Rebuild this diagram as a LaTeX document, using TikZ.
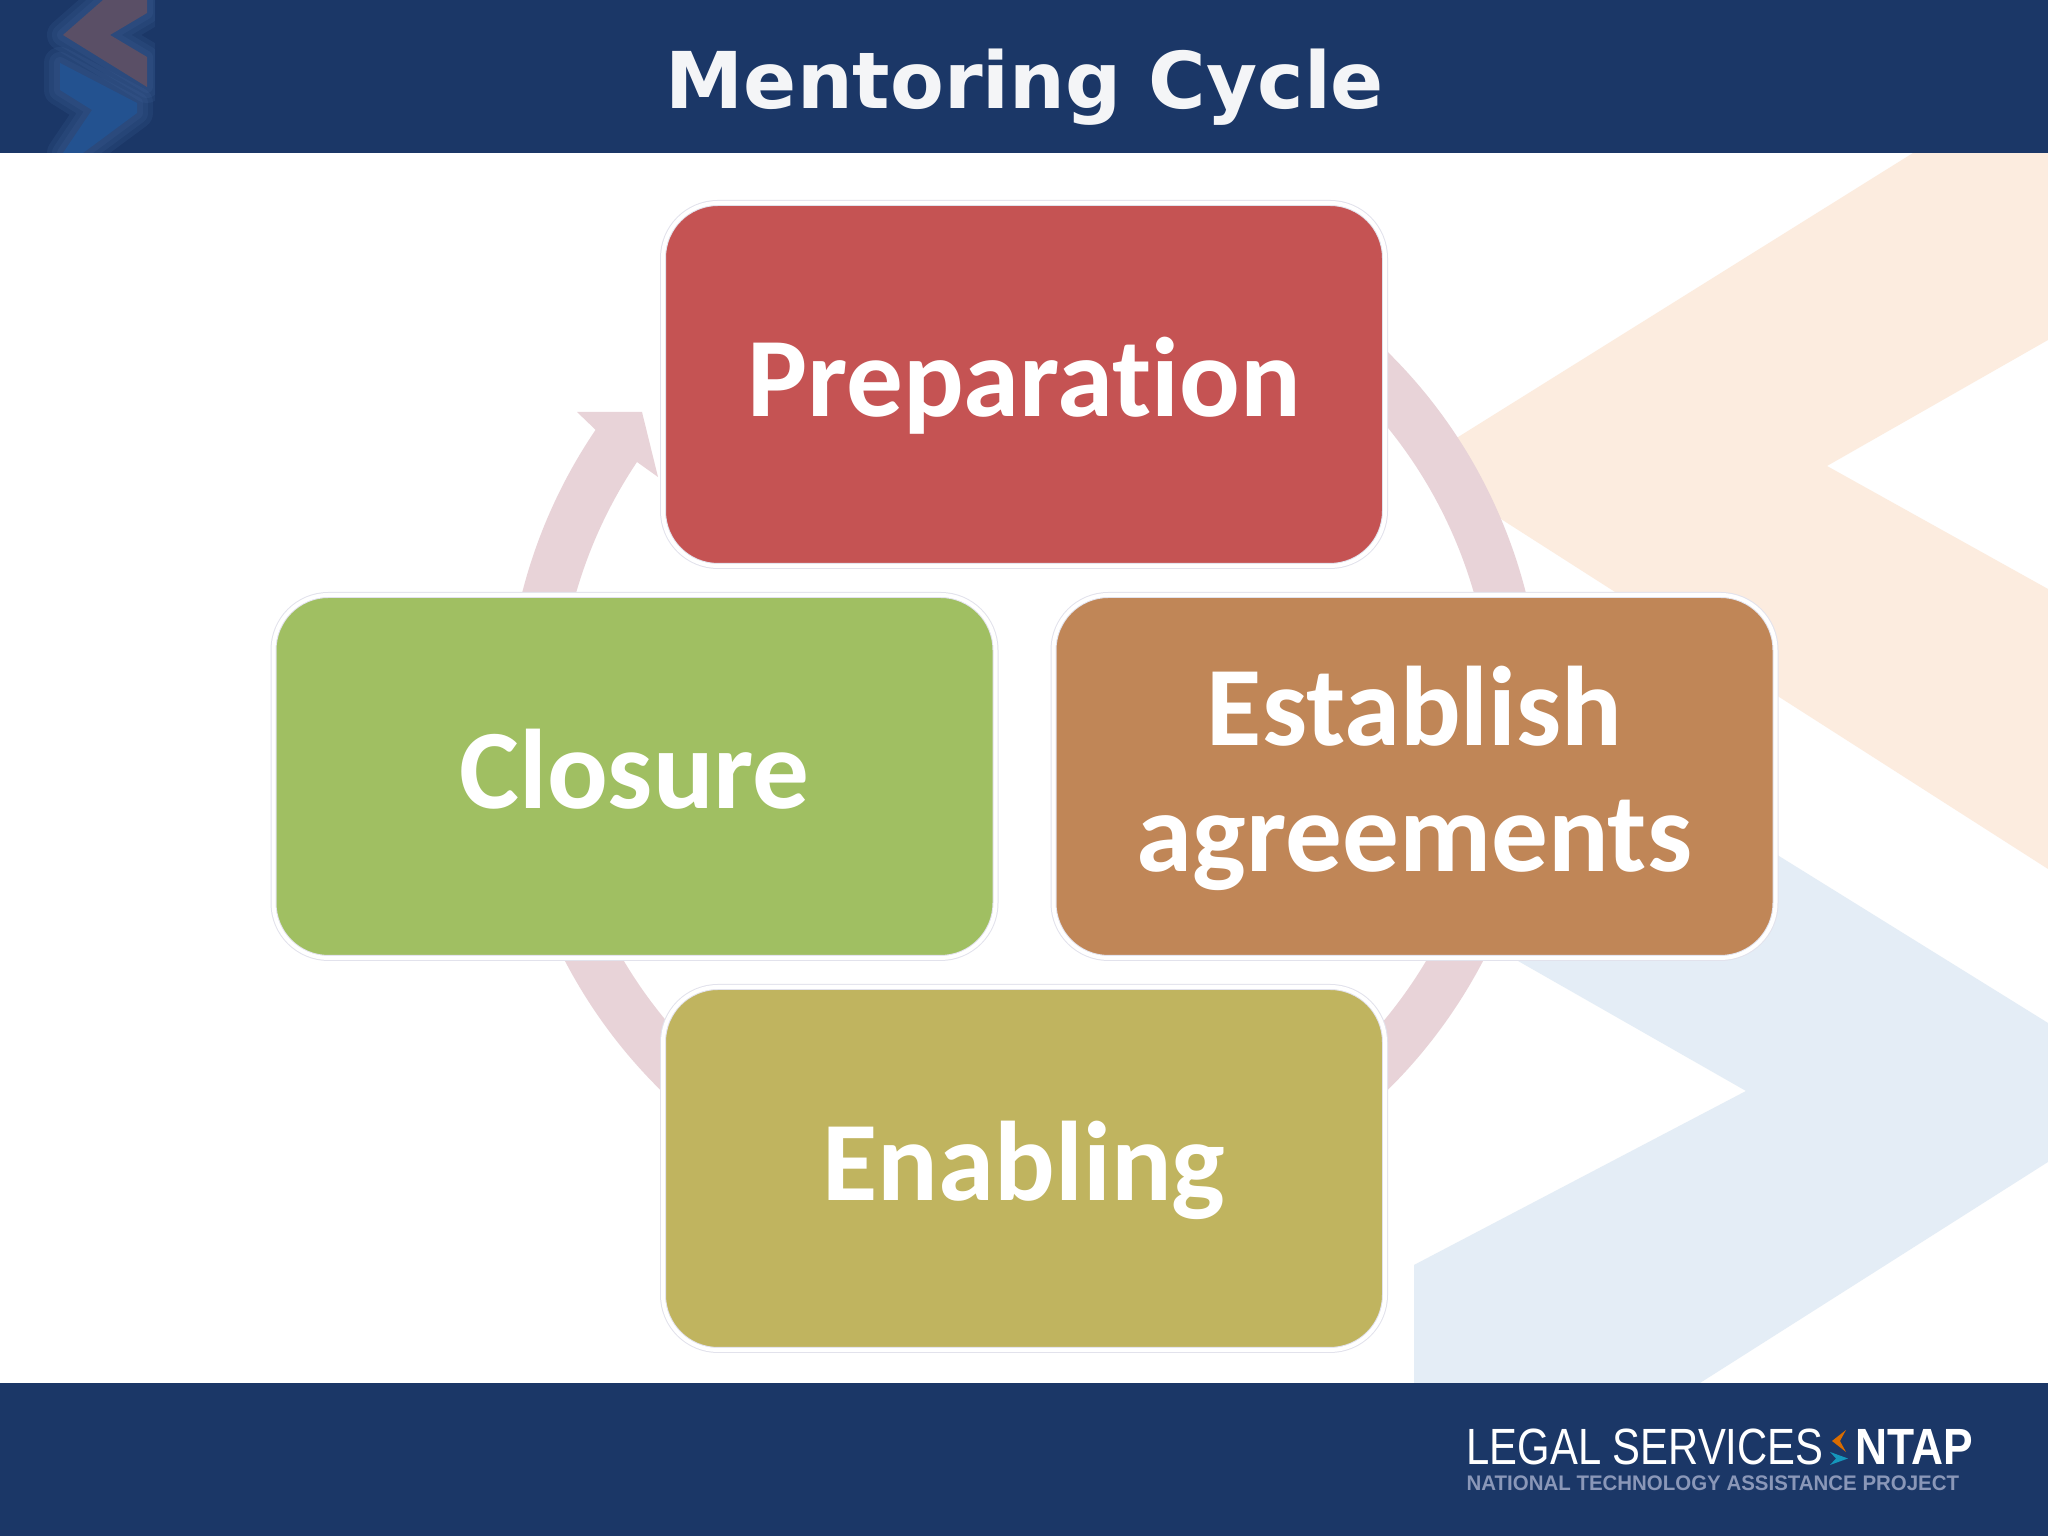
\documentclass[tikz,border=0pt]{standalone}
\usepackage{fontspec}
\usetikzlibrary{positioning}
\newfontfamily\titlefont{DejaVu Sans}
\newfontfamily\boxfont[Ligatures=NoCommon]{Carlito}
\newfontfamily\logofont{Liberation Sans}
\definecolor{ntapnavy}{RGB}{27, 55, 103}
\definecolor{ntapred}{RGB}{197, 83, 83}
\definecolor{ntapgreen}{RGB}{160, 191, 98}
\definecolor{ntaporange}{RGB}{192, 134, 87}
\definecolor{ntapolive}{RGB}{192, 180, 95}
\definecolor{ntapring}{RGB}{232, 211, 216}
\definecolor{ntappeach}{RGB}{252, 236, 223}
\definecolor{ntapsky}{RGB}{228, 237, 246}
\definecolor{ntapedge}{RGB}{226, 226, 236}
\definecolor{ntapgrey}{RGB}{138, 151, 184}
\definecolor{ntapmarkblue}{RGB}{35, 82, 144}
\definecolor{ntapmarkbrown}{RGB}{90, 79, 102}
\definecolor{ntaphaze}{RGB}{70, 105, 160}
\tikzset{
  cyclebox/.style={draw=ntapedge, double=white, double distance=0.04cm, line width=0.01cm,
    rounded corners=0.55cm, minimum width=7.22cm, minimum height=3.63cm, text depth=0.15cm,
    text=white, align=center, font=\boxfont\fontsize{32.2}{36}\selectfont\bfseries},
  logotext/.style={inner sep=0pt, anchor=west}
}
\begin{document}
\begin{tikzpicture}
\useasboundingbox (0,0) rectangle (20.48,15.36);
\fill[white] (0,0) rectangle (20.48,15.36);

% Faint chevrons behind the cycle
\fill[ntappeach] (19.13,13.83) -- (20.48,13.83) -- (20.48,11.96) -- (18.27,10.70) -- (20.48,9.47)
  -- (20.48,6.67) -- (14.15,10.72) -- cycle;
\fill[ntapsky] (20.48,5.13) -- (17.00,7.29) -- (14.90,5.91) -- (17.46,4.45) -- (14.14,2.71)
  -- (14.14,1.53) -- (17.00,1.53) -- (20.48,3.74) -- cycle;

% Header and footer bands
\fill[ntapnavy] (0,13.83) rectangle (20.48,15.36);
\fill[ntapnavy] (0,0) rectangle (20.48,1.53);

% Blurred mark in the header
\begin{scope}
\clip (0,13.83) rectangle (1.55,15.36);
\foreach \w in {0.32,0.22,0.12} {
  \draw[line width=\w cm, ntaphaze, opacity=0.16, line join=round]
    (0.60,14.73) -- (1.37,14.33) -- (1.37,14.23) -- (0.83,13.83) -- (0.63,13.83) -- (0.92,14.26) -- (0.60,14.46) -- cycle;
  \draw[line width=\w cm, ntaphaze, opacity=0.16, line join=round]
    (1.47,15.36) -- (1.03,15.36) -- (0.63,15.01) -- (1.47,14.49) -- (1.47,14.79) -- (1.10,15.01) -- (1.47,15.23) -- cycle;
}
\fill[ntapmarkblue] (0.60,14.73) -- (1.37,14.33) -- (1.37,14.23) -- (0.83,13.83) -- (0.63,13.83) -- (0.92,14.26) -- (0.60,14.46) -- cycle;
\fill[ntapmarkbrown] (1.47,15.36) -- (1.03,15.36) -- (0.63,15.01) -- (1.47,14.49) -- (1.47,14.79) -- (1.10,15.01) -- (1.47,15.23) -- cycle;
\end{scope}

% Ring with its arrow head
\fill[ntapring] (10.24,8.15) ++(60:5.18) arc (60:-214.2:5.18)
  -- (5.77,11.24) -- (6.42,11.24) -- (6.58,10.59) -- (6.37,10.74)
  arc (-213.8:60:4.67) -- cycle;

% Boxes
\node[cyclebox, fill=ntapred] (prepbox) at (10.24,11.515) {Preparation};
\node[cyclebox, fill=ntaporange] (agreebox) at (14.145,7.595) {Establish\\agreements};
\node[cyclebox, fill=ntapolive] (enablebox) at (10.24,3.675) {Enabling};
\node[cyclebox, fill=ntapgreen] (closebox) at (6.345,7.595) {Closure};

% Title
\node[text=white!95!ntapnavy, font=\titlefont\fontsize{22.3}{26}\selectfont\bfseries] (titlelabel) at (10.25,14.49) {Mentoring Cycle};

% Footer logo
\node[logotext, text=white, xscale=0.82, font=\logofont\fontsize{14.5}{16}\selectfont] (legallabel) at (14.66,0.89) {LEGAL SERVICES};
\fill[orange!85!black] (18.46,1.06) -- (18.32,0.95) -- (18.46,0.84) -- (18.40,0.95) -- cycle;
\fill[ntapmarkblue!60!cyan] (18.30,0.84) -- (18.48,0.775) -- (18.30,0.71) -- (18.36,0.775) -- cycle;
\node[logotext, text=white, xscale=0.87, font=\logofont\fontsize{14.5}{16}\selectfont\bfseries] (ntaplabel) at (18.55,0.89) {NTAP};
\node[logotext, text=ntapgrey, xscale=0.97, font=\logofont\fontsize{6}{7}\selectfont\bfseries] (projectlabel) at (14.66,0.53) {NATIONAL TECHNOLOGY ASSISTANCE PROJECT};
\end{tikzpicture}
\end{document}
